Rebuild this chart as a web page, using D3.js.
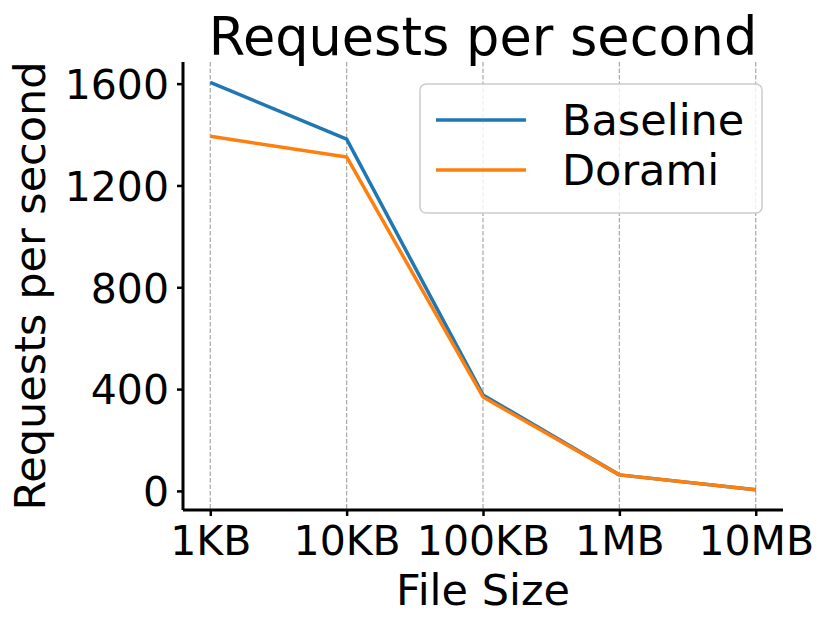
<!DOCTYPE html>
<html>
<head>
<meta charset="utf-8">
<script src="https://cdn.jsdelivr.net/npm/d3@7"></script>
<style>
  body { margin: 0; background: #fff; }
  svg { display: block; font-family: "DejaVu Sans", sans-serif; }
</style>
</head>
<body>
<svg id="chart" width="831" height="625"></svg>
<script>
// data
var fileSizes = ["1KB", "10KB", "100KB", "1MB", "10MB"];
var baseline = [1605, 1382, 377, 63, 5];
var dorami = [1393, 1312, 369, 63, 5];
var yTicks = [0, 400, 800, 1200, 1600];

var series = [
	{ name: "Baseline", values: baseline, color: "#1f77b4" },
	{ name: "Dorami", values: dorami, color: "#ff7f0e" }
];

var margin = { top: 62, right: 48, bottom: 115, left: 183 };
var width = 831 - margin.left - margin.right,
	height = 625 - margin.top - margin.bottom;

var svg = d3.select("#chart");
var g = svg.append("g")
	.attr("transform", "translate(" + margin.left + "," + margin.top + ")");

// matplotlib style 5% margins
var x = d3.scaleLinear().domain([-0.2, fileSizes.length - 1 + 0.2]).range([0, width]);
var all = baseline.concat(dorami);
var lo = d3.min(all), hi = d3.max(all), pad = (hi - lo) * 0.05;
var y = d3.scaleLinear().domain([lo - pad, hi + pad]).range([height, 0]);

// vertical dashed grid
g.append("g")
	.selectAll("line")
	.data(fileSizes)
	.join("line")
	.attr("x1", function(d, i) { return x(i); })
	.attr("x2", function(d, i) { return x(i); })
	.attr("y1", 0)
	.attr("y2", height)
	.attr("stroke", "#a8a8a8")
	.attr("stroke-width", 1.2)
	.attr("stroke-dasharray", "4.5,2");

var line = d3.line()
	.x(function(d, i) { return x(i); })
	.y(function(d) { return y(d); });

series.forEach(function(s) {
	g.append("path")
		.datum(s.values)
		.attr("fill", "none")
		.attr("stroke", s.color)
		.attr("stroke-width", 3.5)
		.attr("stroke-linejoin", "round")
		.attr("d", line);
});

// axes
var xAxis = d3.axisBottom(x)
	.tickValues(d3.range(fileSizes.length))
	.tickFormat(function(i) { return fileSizes[i]; })
	.tickSize(6)
	.tickPadding(8);
var yAxis = d3.axisLeft(y)
	.tickValues(yTicks)
	.tickFormat(d3.format("d"))
	.tickSize(6)
	.tickPadding(8);

var gx = g.append("g")
	.attr("transform", "translate(0," + height + ")")
	.call(xAxis);
var gy = g.append("g").call(yAxis);

[gx, gy].forEach(function(ax) {
	ax.select(".domain").attr("stroke", "#000").attr("stroke-width", 3);
	ax.selectAll(".tick line").attr("stroke", "#000").attr("stroke-width", 2.5);
	ax.selectAll(".tick text")
		.attr("fill", "#000")
		.style("font-size", "41px")
		.style("font-family", "DejaVu Sans");
});
gx.select(".domain").attr("d", "M0,0H" + width);
gy.select(".domain").attr("d", "M0,0V" + height);
gx.selectAll(".tick text").attr("dy", "0.76em");
gy.selectAll(".tick text").attr("dy", "0.36em");

// title and labels
svg.append("text")
	.attr("x", margin.left + width / 2)
	.attr("y", 55)
	.attr("text-anchor", "middle")
	.style("font-size", "52.5px")
	.text("Requests per second");

svg.append("text")
	.attr("x", margin.left + width / 2)
	.attr("y", 605)
	.attr("text-anchor", "middle")
	.style("font-size", "43px")
	.text("File Size");

svg.append("text")
	.attr("transform", "translate(45," + (margin.top + height / 2) + ") rotate(-90)")
	.attr("text-anchor", "middle")
	.style("font-size", "43px")
	.text("Requests per second");

// legend
var legend = svg.append("g").attr("transform", "translate(420,84)");
legend.append("rect")
	.attr("width", 342)
	.attr("height", 129)
	.attr("rx", 6)
	.attr("fill", "#fff")
	.attr("fill-opacity", 0.8)
	.attr("stroke", "#cccccc")
	.attr("stroke-width", 1.5);
series.forEach(function(s, i) {
	var ly = 36 + i * 50;
	legend.append("line")
		.attr("x1", 16).attr("x2", 106)
		.attr("y1", ly).attr("y2", ly)
		.attr("stroke", s.color)
		.attr("stroke-width", 3.5);
	legend.append("text")
		.attr("x", 142)
		.attr("y", ly + 15)
		.style("font-size", "43px")
		.text(s.name);
});
</script>
</body>
</html>
